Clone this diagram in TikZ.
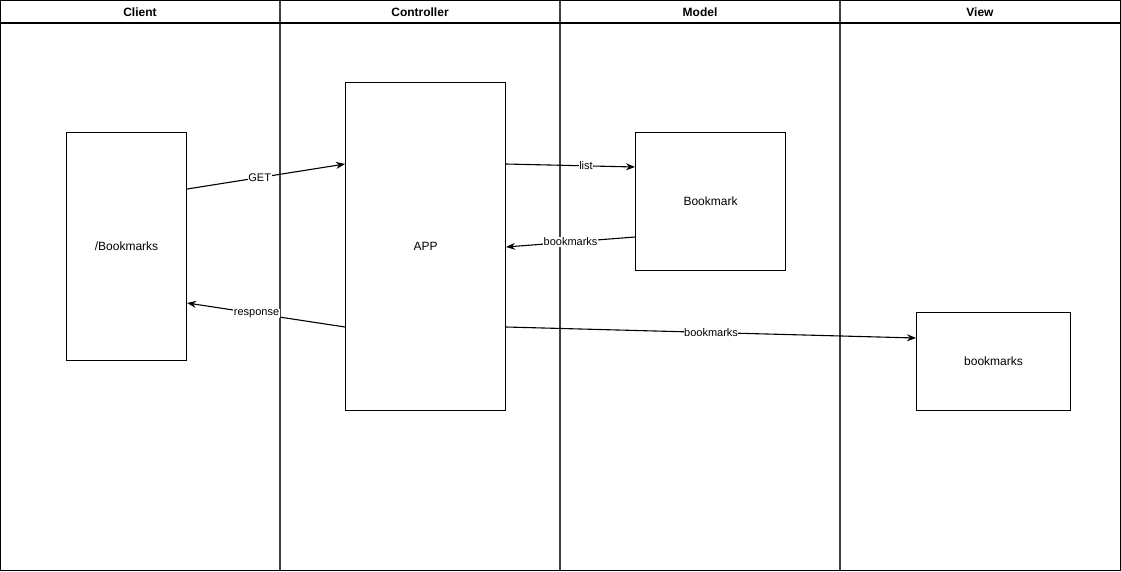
\documentclass[tikz,border=0pt]{standalone}
\usepackage{fontspec}
\setmainfont{Liberation Sans}
\usetikzlibrary{arrows.meta}
\begin{document}
\begin{tikzpicture}[x=1pt,y=-1pt,
  lane/.style={draw=black!75,line width=1.6pt},
  hdr/.style={font=\bfseries\fontsize{12}{14}\selectfont,anchor=center},
  box/.style={draw=black,line width=1.1pt,fill=white,font=\fontsize{12}{14}\selectfont,anchor=north west,inner sep=0pt},
  txt/.style={font=\fontsize{12}{14}\selectfont},
  conn/.style={draw=black,line width=1.1pt,-{Stealth[length=9pt,width=7pt]}},
  lbl/.style={fill=white,inner sep=0.5pt,font=\fontsize{11}{13}\selectfont}]
\useasboundingbox (0,0) rectangle (1121,571);
\fill[white] (0,0) rectangle (1121,571);
% pool
\draw[lane] (280,0.5) -- (280,570.5);
\draw[lane] (560,0.5) -- (560,570.5);
\draw[lane] (840,0.5) -- (840,570.5);
\draw[draw=black,line width=1.4pt] (0.7,0.7) rectangle (1120.3,570.3);
\draw[draw=black,line width=1.4pt] (0.7,23) -- (1120.3,23);
\node[hdr] (hc) at (140,12) {Client};
\node[hdr] (hk) at (420,12) {Controller};
\node[hdr] (hm) at (700,12) {Model};
\node[hdr] (hv) at (980,12) {View};
% boxes
\node[box,minimum width=120pt,minimum height=228pt] (client) at (66,132) {};
\node[txt] at (client.center) {/Bookmarks};
\node[box,minimum width=160pt,minimum height=328pt] (app) at (345,82) {};
\node[txt] at (app.center) {APP};
\node[box,minimum width=150pt,minimum height=138pt] (model) at (635,132) {};
\node[txt] at (model.center) {Bookmark};
\node[box,minimum width=154pt,minimum height=98pt] (view) at (916,312) {};
\node[txt] at (view.center) {bookmarks};
% connectors
\coordinate (c1) at (client.north east |- 0,189);
\coordinate (a1) at (app.north west |- 0,164);
\draw[conn] (c1) -- node[lbl,pos=0.46] {GET} (a1);
\coordinate (a2) at (app.north east |- 0,164);
\coordinate (m1) at (model.north west |- 0,167);
\draw[conn] (a2) -- node[lbl,pos=0.62] {list} (m1);
\coordinate (m2) at (model.north west |- 0,237);
\coordinate (a3) at (app.north east |- 0,247);
\draw[conn] (m2) -- node[lbl,pos=0.5] {bookmarks} (a3);
\coordinate (a4) at (app.north west |- 0,327);
\coordinate (c2) at (client.north east |- 0,303);
\draw[conn] (a4) -- node[lbl,pos=0.56] {response} (c2);
\coordinate (a5) at (app.north east |- 0,327);
\coordinate (v1) at (view.north west |- 0,338);
\draw[conn] (a5) -- node[lbl,pos=0.5] {bookmarks} (v1);
\end{tikzpicture}
\end{document}
